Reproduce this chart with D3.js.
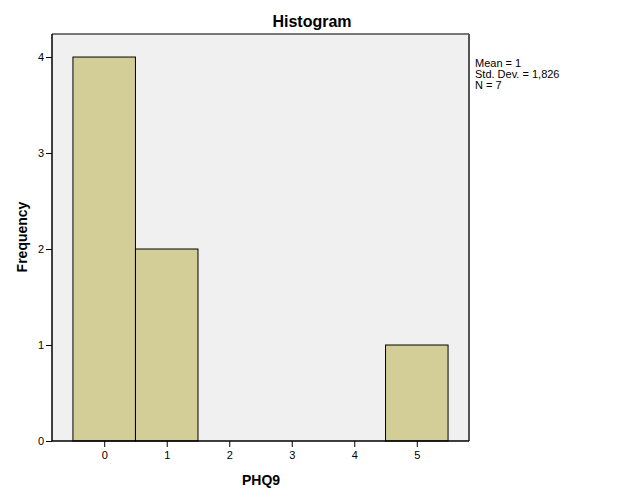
<!DOCTYPE html>
<html><head><meta charset="utf-8">
<script src="https://cdn.jsdelivr.net/npm/d3@7"></script>
<style>body{margin:0;background:#fff;} svg{display:block;font-family:"Liberation Sans",Arial,sans-serif;}</style>
</head><body>
<svg id="c" width="626" height="501"></svg>
<script>
const binCenters = [0, 1, 2, 3, 4, 5];
const frequencies = [4, 2, 0, 0, 0, 1];
const xTicks = [0, 1, 2, 3, 4, 5];
const yTicks = [0, 1, 2, 3, 4];
const statLines = ["Mean = 1", "Std. Dev. = 1,826", "N = 7"];
const title = "Histogram";
const xLabel = "PHQ9";
const yLabel = "Frequency";

const svg = d3.select("#c");
const L = 52, R = 469, T = 34, B = 441;
const x = d3.scaleLinear().domain([-0.835, 5.835]).range([L, R]);
const y = d3.scaleLinear().domain([0, 4.24]).range([B, T]);

svg.append("rect").attr("x", L).attr("y", T).attr("width", R - L).attr("height", B - T).attr("fill", "#f0f0f0");

svg.selectAll("rect.bar").data(binCenters.map((c, i) => ({c, f: frequencies[i]})).filter(d => d.f > 0))
  .enter().append("rect").attr("class", "bar")
  .attr("x", d => x(d.c - 0.5)).attr("width", d => x(d.c + 0.5) - x(d.c - 0.5))
  .attr("y", d => y(d.f)).attr("height", d => y(0) - y(d.f))
  .attr("fill", "#d3ce97").attr("stroke", "#000").attr("stroke-width", 1);

// frame
svg.append("line").attr("x1", L).attr("x2", R).attr("y1", T).attr("y2", T).attr("stroke", "#777").attr("stroke-width", 2);
svg.append("line").attr("x1", R).attr("x2", R).attr("y1", T).attr("y2", B).attr("stroke", "#555").attr("stroke-width", 2);

const xa = svg.append("g").attr("transform", `translate(0,${B})`)
  .call(d3.axisBottom(x).tickValues(xTicks).tickSize(6).tickPadding(4).tickFormat(d3.format("d")));
const ya = svg.append("g").attr("transform", `translate(${L},0)`)
  .call(d3.axisLeft(y).tickValues(yTicks).tickSize(6).tickPadding(2).tickFormat(d3.format("d")));
[xa, ya].forEach(g => {
  g.select(".domain").attr("stroke", "#000").attr("stroke-width", 1.5);
  g.selectAll(".tick line").attr("stroke", "#000");
  g.selectAll("text").attr("fill", "#000").style("font-size", "11px").style("font-family", "Liberation Sans, Arial, sans-serif");
});
xa.select(".domain").attr("d", `M${L},0H${R}`);
ya.select(".domain").attr("d", `M0,${T}V${B}`);

svg.append("text").attr("x", 312).attr("y", 27).attr("text-anchor", "middle")
  .style("font-size", "16px").style("font-weight", "bold").text(title);
svg.append("text").attr("x", 261).attr("y", 485).attr("text-anchor", "middle")
  .style("font-size", "14px").style("font-weight", "bold").text(xLabel);
svg.append("text").attr("transform", "translate(27,237) rotate(-90)").attr("text-anchor", "middle")
  .style("font-size", "14px").style("font-weight", "bold").text(yLabel);

svg.selectAll("text.stat").data(statLines).enter().append("text").attr("class", "stat")
  .attr("x", 475).attr("y", (d, i) => 67 + i * 11).style("font-size", "11px").text(d => d);
</script>
</body></html>
